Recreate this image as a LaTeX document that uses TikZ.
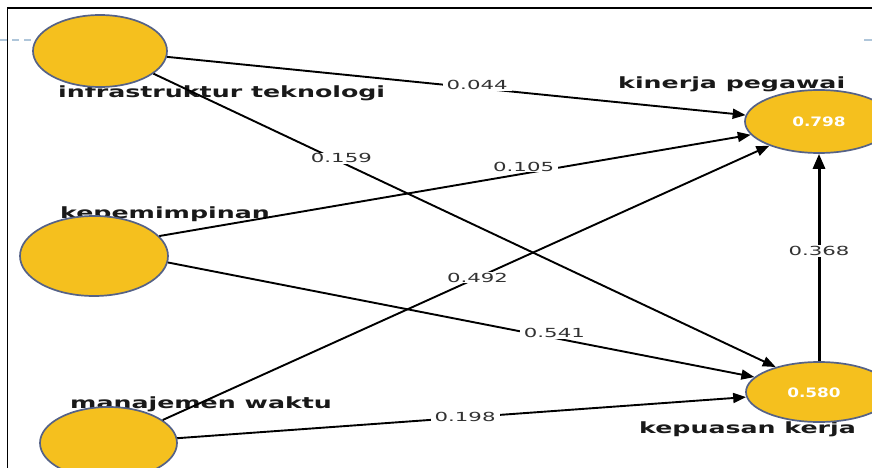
\documentclass[tikz,border=0pt]{standalone}
\usepackage{fontspec}
\usepackage{graphicx}
\newfontfamily\dejavu{DejaVu Sans}
\usetikzlibrary{arrows.meta,shapes.geometric}
\definecolor{lvfill}{RGB}{245,192,30}
\definecolor{lvedge}{RGB}{85,98,135}
\definecolor{coefgray}{RGB}{50,50,50}
\definecolor{guide}{RGB}{175,198,218}
% horizontally widened text
\newcommand{\wide}[2]{\scalebox{#1}[1]{#2}}

\begin{document}
\begin{tikzpicture}[x=1pt,y=-1pt,
  lv/.style={ellipse, draw=lvedge, line width=1.7pt, fill=lvfill, inner sep=0pt},
  lvname/.style={anchor=base west, inner sep=0pt, text=black!90,
    font=\dejavu\bfseries\fontsize{15.5}{18}\selectfont},
  rsq/.style={text=white, font=\dejavu\bfseries\fontsize{13}{15}\selectfont},
  link/.style={line width=1.9pt, -{Triangle[length=13pt,width=10pt]}},
  mainlink/.style={line width=3pt, -{Triangle[length=15pt,width=12pt]}},
  coef/.style={fill=white, inner xsep=4pt, inner ysep=1pt, text=coefgray,
    font=\dejavu\fontsize{12.5}{14}\selectfont},
]
\useasboundingbox (0,0) rectangle (872,468);

% frame and guide line
\draw[line width=1.5pt] (7.5,468) -- (7.5,8) -- (872,8);
\draw[guide, line width=1.2pt, dash pattern=on 7pt off 5pt] (0,40) -- (34,40);
\draw[guide, line width=1.2pt] (864,40) -- (872,40);

% construct names
\node[lvname] (lit)  at (58,98)  {\wide{1.63}{infrastruktur teknologi}};
\node[lvname] (lkp)  at (618,89) {\wide{1.63}{kinerja pegawai}};
\node[lvname] (lkep) at (60,218) {\wide{1.63}{kepemimpinan}};
\node[lvname] (lmw)  at (70,408) {\wide{1.63}{manajemen waktu}};
\node[lvname] (lkk)  at (639,433) {\wide{1.63}{kepuasan kerja}};

% latent variables
\node[lv, minimum width=134pt, minimum height=72pt] (it)  at (100,51) {};
\node[lv, minimum width=148pt, minimum height=80pt] (kep) at (94,256) {};
\node[lv, minimum width=137pt, minimum height=72pt] (mw)  at (108.5,443) {};
\node[lv, minimum width=148pt, minimum height=63pt] (kp)  at (819,121.5) {};
\node[lv, minimum width=146pt, minimum height=60pt] (kk)  at (819,392) {};
\node[rsq] (r2kp) at (819,122) {\wide{1.3}{0.798}};
\node[rsq] (r2kk) at (814,393) {\wide{1.3}{0.580}};

% path coefficients
\draw[link] (it.-5) -- (kp.175)
  node[coef, pos=.536, yshift=3pt] {\wide{1.7}{0.044}};
\draw[link] (it.-23.5) -- (kk.150)
  node[coef, pos=.302, yshift=4pt] {\wide{1.7}{0.159}};
\draw[link] (kep.17.6) -- (kp.191)
  node[coef, pos=.616, yshift=7pt] {\wide{1.7}{0.105}};
\draw[link] (kep.-5.5) -- (kk.167.7)
  node[coef, pos=.659, yshift=5pt] {\wide{1.7}{0.541}};
\draw[link] (mw.23.8) -- (kp.206.6)
  node[coef, pos=.519] {\wide{1.7}{0.492}};
\draw[link] (mw.4.1) -- (kk.184)
  node[coef, pos=.506] {\wide{1.7}{0.198}};
\draw[mainlink] (kk.north) -- (kp.south)
  node[coef, pos=.531] {\wide{1.7}{0.368}};
\end{tikzpicture}
\end{document}
